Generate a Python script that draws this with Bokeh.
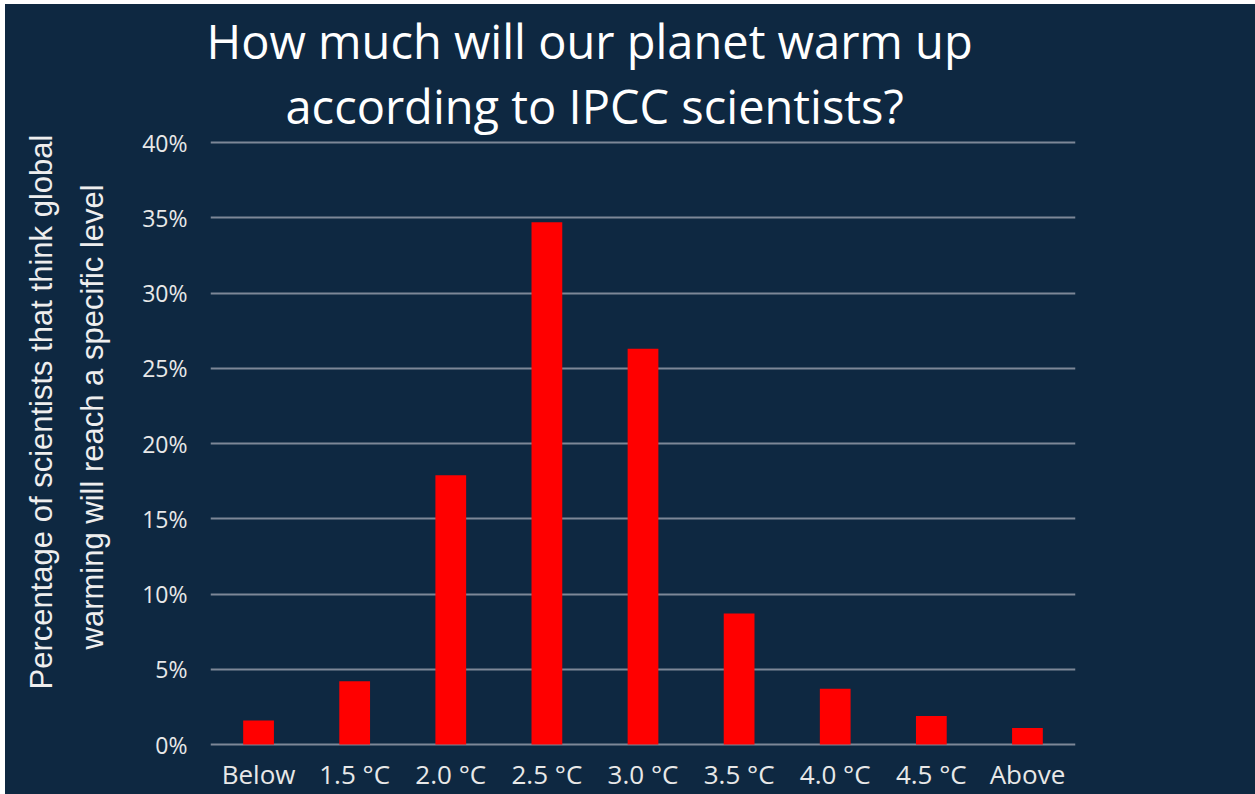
from bokeh.plotting import figure
from bokeh.models import Title, FixedTicker, CustomJSTickFormatter, Range1d
from bokeh.embed import file_html
from bokeh.resources import INLINE

categories = ["Below", "1.5 °C", "2.0 °C", "2.5 °C", "3.0 °C", "3.5 °C", "4.0 °C", "4.5 °C", "Above"]
percent = [1.6, 4.2, 17.9, 34.7, 26.3, 8.7, 3.7, 1.9, 1.1]
y_ticks = [0, 5, 10, 15, 20, 25, 30, 35, 40]
title_lines = ["How much will our planet warm up", "according to IPCC scientists?"]
ylabel_lines = ["Percentage of scientists that think global", "warming will reach a specific level"]

BG = "#0E2841"
FONT = "Open Sans"
GRID = "#7d8797"

p = figure(x_range=categories, y_range=Range1d(-0.13, 40.14), width=1250, height=790,
           output_backend="svg", toolbar_location=None,
           background_fill_color=None, border_fill_color=None, outline_line_color=None,
           min_border_left=205, min_border_right=180, min_border_top=136, min_border_bottom=48)
p.styles = {"background-color": BG, "margin-left": "5px", "margin-top": "4px"}
p.title.visible = False

p.vbar(x=categories, top=percent, width=0.32, fill_color="#FF0000", line_color=None)

# title lines (added later = farther from the plot)
p.add_layout(Title(text=title_lines[1], text_font=FONT, text_font_size="47px", text_color="white",
                   text_font_style="normal", align="left", offset=75, standoff=5), "above")
p.add_layout(Title(text=title_lines[0], text_font=FONT, text_font_size="47px", text_color="white",
                   text_font_style="normal", align="left", offset=-4, standoff=-6), "above")

p.yaxis.ticker = FixedTicker(ticks=y_ticks)
p.yaxis.formatter = CustomJSTickFormatter(code="return tick + '%';")
p.yaxis.major_label_text_font = FONT
p.yaxis.major_label_text_font_size = "23px"
p.yaxis.major_label_text_color = "#e8e8e8"
p.yaxis.axis_line_color = None
p.yaxis.major_tick_line_color = None
p.yaxis.minor_tick_line_color = None
p.yaxis.major_tick_out = 0
p.yaxis.major_tick_in = 0
p.yaxis.major_label_standoff = 23

p.add_layout(Title(text=ylabel_lines[1], text_font="Liberation Sans", text_font_size="31px",
                   text_color="#eeeeee", text_font_style="normal", align="left",
                   offset=97, standoff=59), "left")
p.add_layout(Title(text=ylabel_lines[0], text_font="Liberation Sans", text_font_size="31px",
                   text_color="#eeeeee", text_font_style="normal", align="left",
                   offset=57, standoff=-30), "left")

p.xaxis.major_label_text_font = FONT
p.xaxis.major_label_text_font_size = "26px"
p.xaxis.major_label_text_color = "#e8e8e8"
p.xaxis.axis_line_color = None
p.xaxis.major_tick_line_color = None
p.xaxis.minor_tick_line_color = None
p.xaxis.major_tick_out = 0
p.xaxis.major_tick_in = 0
p.xaxis.major_label_standoff = 9

p.xgrid.grid_line_color = None
p.ygrid.grid_line_color = GRID
p.ygrid.grid_line_width = 2
p.x_range.range_padding = 0

open("out.html", "w").write(file_html(p, INLINE))
